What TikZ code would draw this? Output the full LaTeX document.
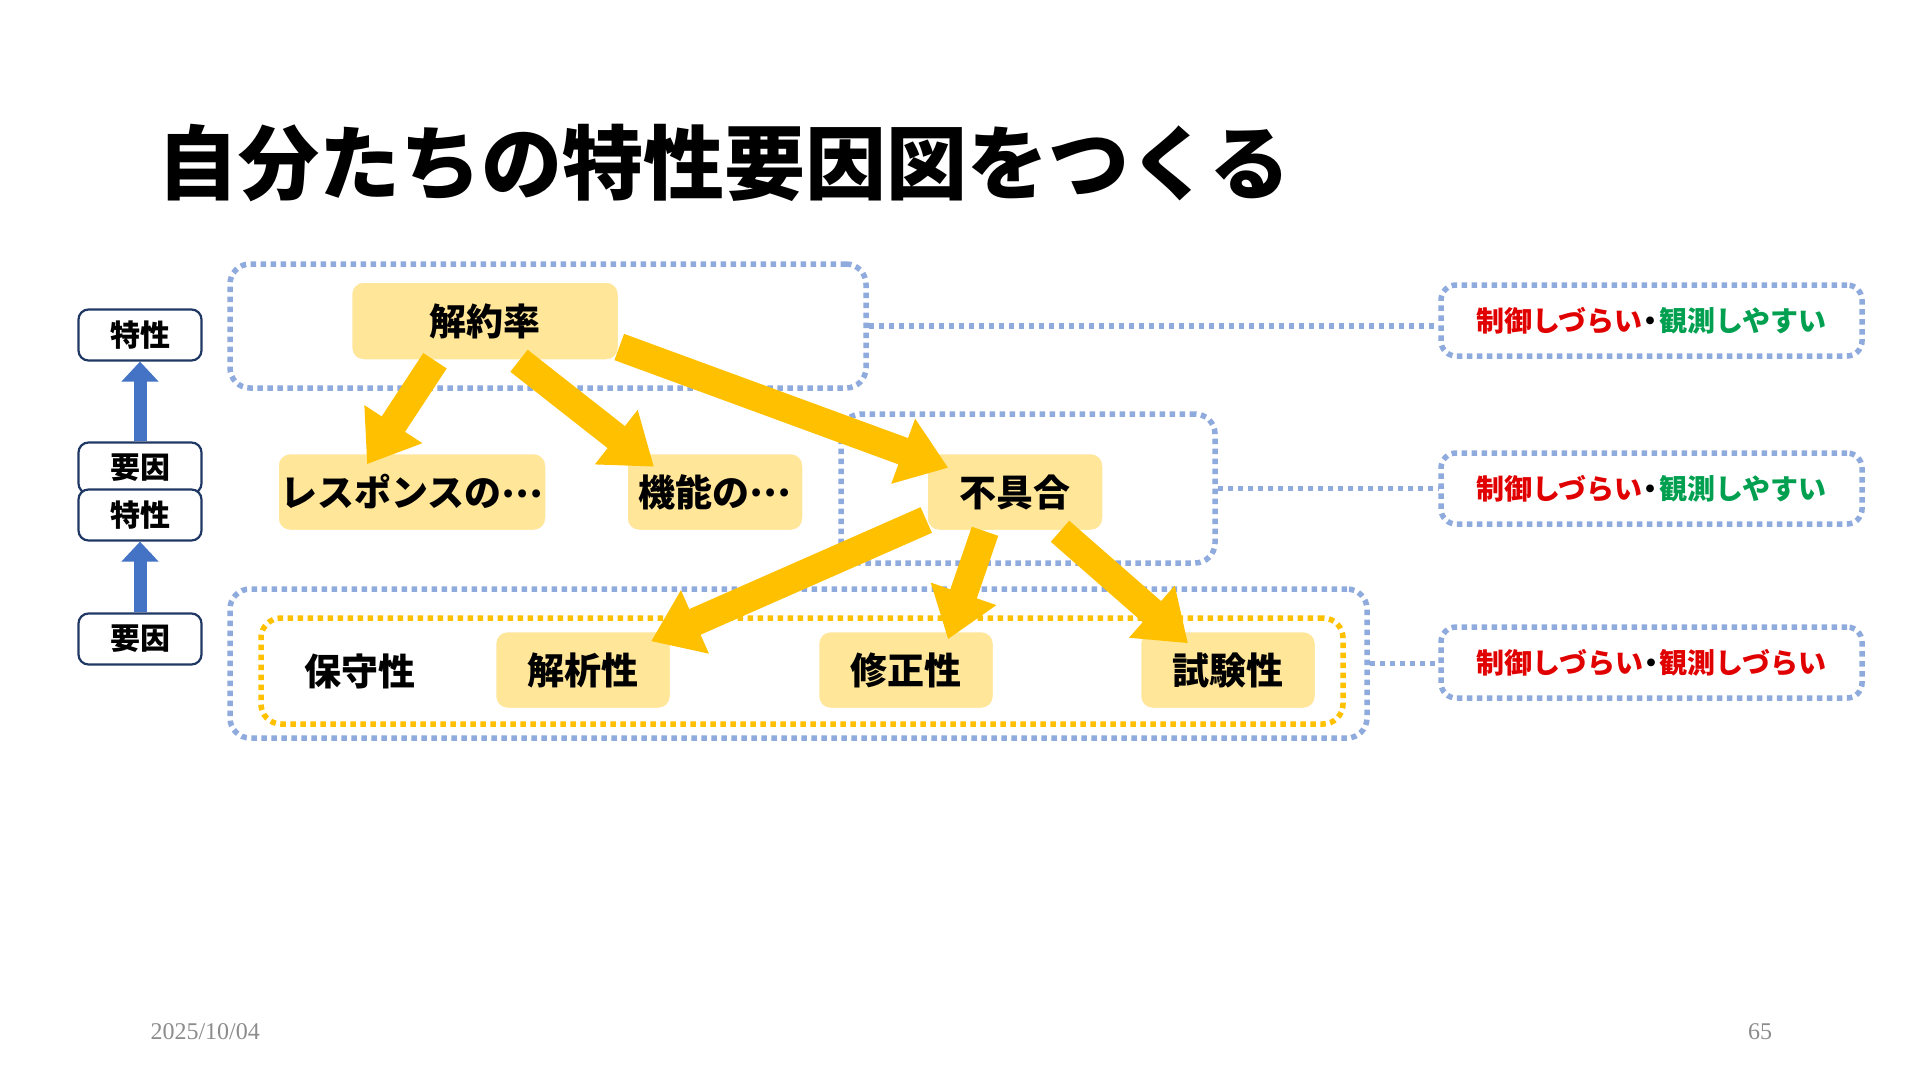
\documentclass[tikz,border=0pt]{standalone}
\usepackage{fontspec}
\setmainfont{Liberation Serif}
\newfontfamily\jp{Noto Sans CJK JP}
\usetikzlibrary{arrows.meta, calc}
\definecolor{dotblue}{HTML}{8FAADC}
\definecolor{boxyellow}{HTML}{FFE699}
\definecolor{arrowyellow}{HTML}{FFC000}
\definecolor{stackblue}{HTML}{4472C4}
\definecolor{stacknavy}{HTML}{1F3864}
\definecolor{ctrlred}{HTML}{E00000}
\definecolor{obsgreen}{HTML}{00A050}
\definecolor{footgray}{HTML}{8C8C8C}
\newcommand{\tenten}{\raisebox{0.25em}{…}}
\newcommand{\naka}{\kern-0.2em・\kern-0.2em}

\begin{document}
\begin{tikzpicture}[x=1pt, y=-1pt,
  ybox/.style={fill=boxyellow, draw=white, line width=1.5pt, rounded corners=12pt, inner sep=0pt,
    minimum height=77pt, font=\jp\bfseries\fontsize{37}{37}\selectfont},
  stackbox/.style={fill=white, draw=stacknavy, line width=2.2pt, rounded corners=10pt, inner sep=0pt,
    minimum width=123pt, minimum height=51pt, font=\jp\bfseries\fontsize{30}{30}\selectfont},
  dotgroup/.style={draw=dotblue, line width=5.5pt, dash pattern=on 5.5pt off 4.5pt, rounded corners=20pt, inner sep=0pt},
  notebox/.style={dotgroup, rounded corners=15pt, minimum width=421pt, minimum height=71pt,
    font=\jp\bfseries\fontsize{28}{28}\selectfont},
  dotlink/.style={draw=dotblue, line width=5.5pt, dash pattern=on 5.5pt off 4.5pt},
  bigarrow/.style={draw=arrowyellow, line width=28pt, -{Triangle[width=66pt, length=48pt]}},
  uparrow/.style={draw=stackblue, line width=13pt, -{Triangle[width=36pt, length=20pt]}}]
\useasboundingbox (0,0) rectangle (1920,1080);

% タイトル
\node[font=\jp\bfseries\fontsize{81}{81}\selectfont] (title) at (724,163) {自分たちの特性要因図をつくる};

% 左：特性と要因の関係
\node[stackbox] (c1) at (140,335) {特性};
\node[stackbox] (f1) at (140,468) {要因};
\node[stackbox] (c2) at (140,515) {特性};
\node[stackbox] (f2) at (140,639) {要因};
\draw[uparrow] (f1.north) -- (c1.south);
\draw[uparrow] (f2.north) -- (c2.south);

% グループ枠
\node[dotgroup, minimum width=636pt, minimum height=124pt] (gTop) at (548,326) {};
\node[dotgroup, minimum width=374pt, minimum height=149pt] (gMid) at (1028,488.5) {};
\node[dotgroup, minimum width=1137pt, minimum height=149pt] (gBot) at (798.5,663.5) {};
\node[dotgroup, draw=arrowyellow, minimum width=1082pt, minimum height=106pt] (gIn) at (802,671) {};

% 項目
\node[ybox, minimum width=267pt, minimum height=78pt] (kaiyaku) at (485,321) {解約率};
\node[ybox, minimum width=268pt] (resp) at (412,492) {レスポンスの\tenten};
\node[ybox, minimum width=176pt] (kino) at (715,492) {機能の\tenten};
\node[ybox, minimum width=176pt] (fugu) at (1015,492) {不具合};
\node[font=\jp\bfseries\fontsize{37}{37}\selectfont] (hoshu) at (360,671) {保守性};
\node[ybox, minimum width=175pt] (kaiseki) at (583,670) {解析性};
\node[ybox, minimum width=175pt] (shusei) at (906,670) {修正性};
\node[ybox, minimum width=175pt] (shiken) at (1228,670) {試験性};

% 因果の矢印
\draw[bigarrow] ($(kaiyaku.south)+(-50,0)$) -- ($(resp.north)+(-45,11.5)$);
\draw[bigarrow] ($(kaiyaku.south)+(34,0)$) -- ($(kino.north)+(-61,14)$);
\draw[bigarrow] ($(kaiyaku.east)+(0,26)$) -- ($(fugu.north west)+(22,15)$);
\draw[bigarrow] ($(fugu.west)+(0,28)$) -- ($(kaiseki.north)+(68,10.5)$);
\draw[bigarrow] ($(fugu.south)+(-30,0)$) -- ($(shusei.north)+(42,8.5)$);
\draw[bigarrow] ($(fugu.south)+(45,0)$) -- ($(shiken.north)+(-40,12.5)$);

% 右：制御と観測
\node[notebox] (r1) at (1651.5,320.5) {\textcolor{ctrlred}{制御しづらい}\naka\textcolor{obsgreen}{観測しやすい}};
\node[notebox] (r2) at (1651.5,488.5) {\textcolor{ctrlred}{制御しづらい}\naka\textcolor{obsgreen}{観測しやすい}};
\node[notebox] (r3) at (1651.5,662.5) {\textcolor{ctrlred}{制御しづらい}\naka\textcolor{ctrlred}{観測しづらい}};
\draw[dotlink] (gTop.east) -- (gTop.east -| r1.west);
\draw[dotlink] (gMid.east) -- (gMid.east -| r2.west);
\draw[dotlink] (gBot.east) -- (gBot.east -| r3.west);

% フッター
\node[anchor=west, text=footgray, font=\fontsize{24}{24}\selectfont] (date) at (147,1032) {2025/10/04};
\node[text=footgray, font=\fontsize{24}{24}\selectfont] (page) at (1760,1032) {65};
\end{tikzpicture}
\end{document}
